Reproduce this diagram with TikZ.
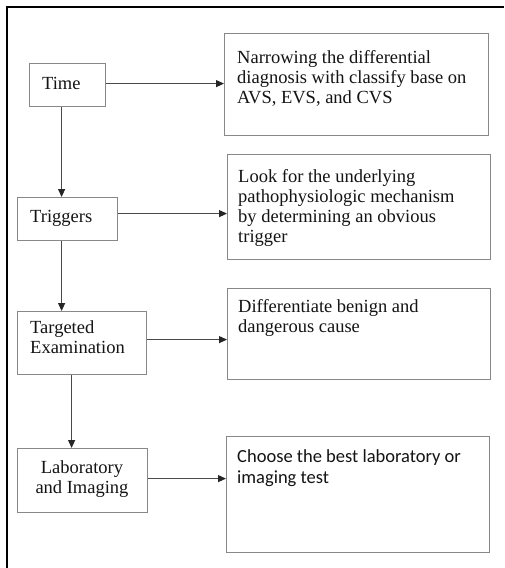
\documentclass[tikz,border=0pt]{standalone}
\usepackage{fontspec}
\setmainfont{Liberation Serif}
\newfontfamily\calib{Carlito}
\usetikzlibrary{arrows.meta}
\definecolor{boxgray}{HTML}{888888}
\definecolor{arrgray}{HTML}{4A4A4A}
\definecolor{txt}{HTML}{141414}
\tikzset{
  x=1pt, y=-1pt,
  box/.style={draw=boxgray, line width=1.2pt, inner sep=0pt, anchor=north west},
  lbl/.style={inner sep=0pt, text=txt, font=\fontsize{18.5}{20}\selectfont},
  arr/.style={draw=arrgray, line width=1.1pt, -{Triangle[length=8pt,width=7pt,color=black!85]}}
}
\begin{document}
\begin{tikzpicture}
\useasboundingbox (0,0) rectangle (504,568);
\fill[white] (0,0) rectangle (504,568);
% outer frame (top and left edges only)
\draw[line width=1.5pt, black] (7,568) -- (7,7) -- (504,7);

% left boxes
\node[box, minimum width=76pt, minimum height=43pt] (time) at (29,63) {};
\node[box, minimum width=100pt, minimum height=43pt] (trig) at (17,197) {};
\node[box, minimum width=129pt, minimum height=63pt] (targ) at (17,311) {};
\node[box, minimum width=130pt, minimum height=64pt] (lab) at (17,448) {};

% right boxes
\node[box, minimum width=264pt, minimum height=102pt] (r1) at (224,33) {};
\node[box, minimum width=263pt, minimum height=105pt] (r2) at (227,154) {};
\node[box, minimum width=263pt, minimum height=91pt] (r3) at (227,288) {};
\node[box, minimum width=263pt, minimum height=116pt] (r4) at (226,436) {};

% left texts
\node[lbl, anchor=base west] (ttime) at (42,89) {Time};
\node[lbl, anchor=base west] (ttrig) at (30,222) {Triggers};
\node[lbl, anchor=north west, align=left] (ttarg) at (30,320.4) {Targeted\\Examination};
\node[lbl, anchor=north, align=center] (tlab) at (82,460.4) {Laboratory\\and Imaging};

% right texts
\node[lbl, anchor=north west, align=left] (tr1) at (237,50.4) {Narrowing the differential\\diagnosis with classify base on\\AVS, EVS, and CVS};
\node[lbl, anchor=north west, align=left] (tr2) at (238,169.4) {Look for the underlying\\pathophysiologic mechanism\\by determining an obvious\\trigger};
\node[lbl, anchor=north west, align=left] (tr3) at (238,299.4) {Differentiate benign and\\dangerous cause};
\node[lbl, anchor=north west, align=left, font=\calib\fontsize{18.5}{21}\selectfont] (tr4) at (237,449.8) {Choose the best laboratory or\\imaging test};

% horizontal arrows
\draw[arr] ([yshift=1.5pt]time.east) -- ([yshift=1.5pt]time.east -| r1.west);
\draw[arr] ([yshift=5.5pt]trig.east) -- ([yshift=5.5pt]trig.east -| r2.west);
\draw[arr] ([yshift=3.5pt]targ.east) -- ([yshift=3.5pt]targ.east -| r3.west);
\draw[arr] ([yshift=2pt]lab.east) -- ([yshift=2pt]lab.east -| r4.west);

% vertical arrows
\draw[arr] ([xshift=-6pt]time.south) -- ([xshift=-6pt]time.south |- trig.north);
\draw[arr] ([xshift=-6pt]trig.south) -- ([xshift=-6pt]trig.south |- targ.north);
\draw[arr] ([xshift=-10.5pt]targ.south) -- ([xshift=-10.5pt]targ.south |- lab.north);
\end{tikzpicture}
\end{document}
